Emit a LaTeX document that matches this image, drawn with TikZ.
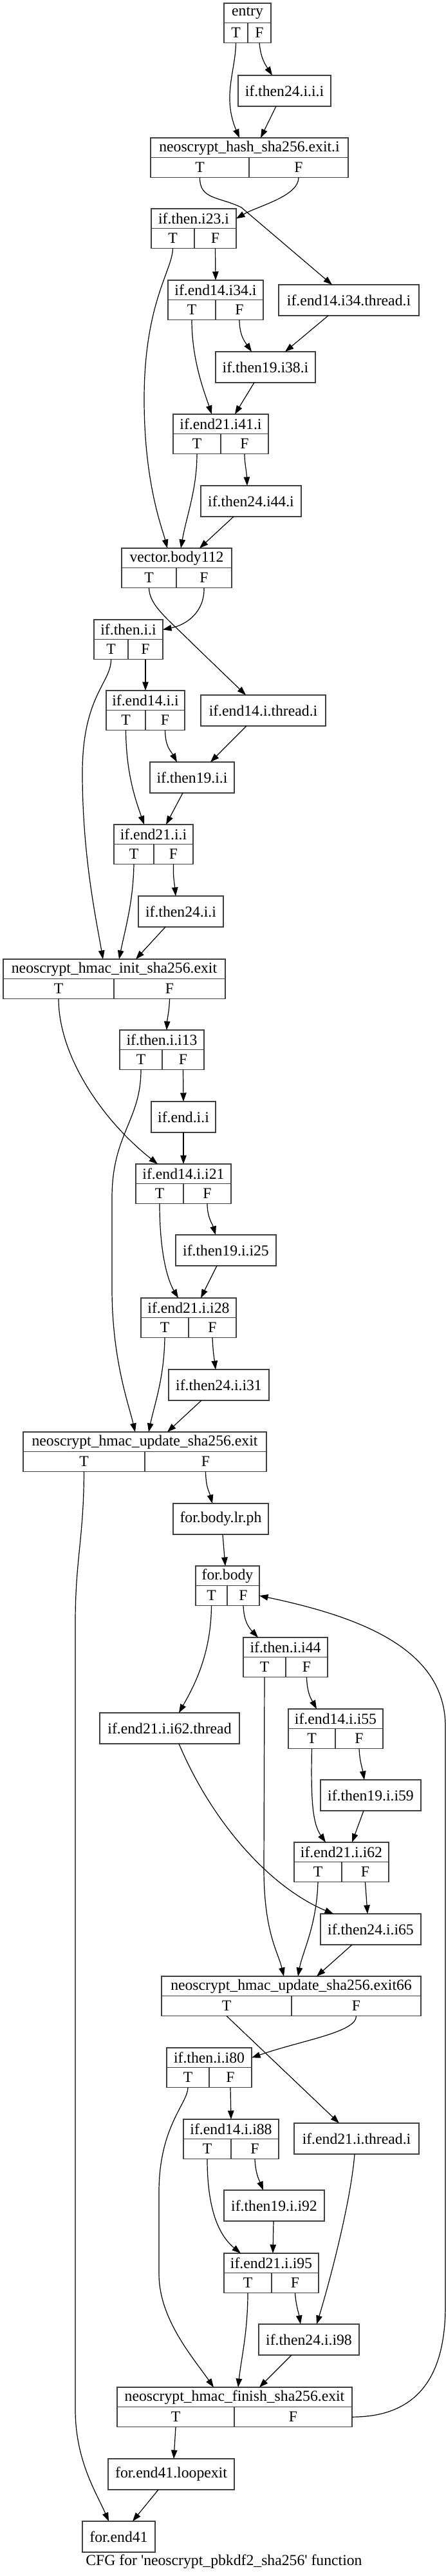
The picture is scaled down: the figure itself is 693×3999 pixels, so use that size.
\documentclass[tikz,border=0pt]{standalone}
\usepackage{fontspec}
\setmainfont{Liberation Serif}
\usetikzlibrary{arrows.meta}

% record block: name, left, split, right, top, label
\newcommand{\cfgrecord}[6]{%
  \node[recrow,minimum width={#4pt-#2pt}] (#1) at ({(#2+#4)/2},{#5+15.375}) {#6};
  \node[recrow,minimum width={#3pt-#2pt}] (#1-T) at ({(#2+#3)/2},{#5+46.125}) {T};
  \node[recrow,minimum width={#4pt-#3pt}] (#1-F) at ({(#3+#4)/2},{#5+46.125}) {F};
}
% plain block: name, left, right, top, label
\newcommand{\cfgbox}[5]{%
  \node[plainbox,minimum width={#3pt-#2pt}] (#1) at ({(#2+#3)/2},{#4+24}) {#5};
}

\begin{document}
\begin{tikzpicture}[
  x=1pt,y=-1pt,
  cfgfont/.style={font=\fontsize{23.7}{28}\selectfont},
  recrow/.style={draw=black!75,line width=1.3pt,rectangle,inner sep=0pt,
    outer sep=0pt,minimum height=30.75pt,cfgfont},
  plainbox/.style={draw=black!75,line width=1.3pt,rectangle,inner sep=0pt,
    outer sep=0pt,minimum height=48pt,cfgfont},
  edge/.style={draw=black,line width=1.2pt,-{Triangle[length=13.5pt,width=9.5pt]}}
]
  \useasboundingbox (0,0) rectangle (693,3999);

  \cfgrecord{entry}{348}{385}{421}{5}{entry}
  \cfgbox{thenXA}{370}{514}{117}{if.then24.i.i.i}
  \cfgrecord{hashexit}{234}{387}{541}{214}{neoscrypt\_hash\_sha256.exit.i}
  \cfgrecord{thenA}{235}{302}{367}{324}{if.then.i23.i}
  \cfgrecord{endA}{261}{335}{409}{435}{if.end14.i34.i}
  \cfgbox{thrA}{433}{651}{442}{if.end14.i34.thread.i}
  \cfgbox{thenYA}{335}{490}{546}{if.then19.i38.i}
  \cfgrecord{endB}{269}{343}{417}{643}{if.end21.i41.i}
  \cfgbox{thenXB}{312}{468}{754}{if.then24.i44.i}
  \cfgrecord{vecbody}{189}{274}{360}{851}{vector.body112}
  \cfgrecord{thenB}{146}{199}{253}{962}{if.then.i.i}
  \cfgrecord{endC}{165}{226}{287}{1072}{if.end14.i.i}
  \cfgbox{thrB}{312}{506}{1079}{if.end14.i.thread.i}
  \cfgbox{thenYB}{233}{364}{1183}{if.then19.i.i}
  \cfgrecord{endD}{177}{239}{300}{1280}{if.end21.i.i}
  \cfgbox{thenXC}{215}{347}{1391}{if.then24.i.i}
  \cfgrecord{initexit}{5}{177}{350}{1489}{neoscrypt\_hmac\_init\_sha256.exit}
  \cfgrecord{thenC}{186}{252}{317}{1599}{if.then.i.i13}
  \cfgbox{endii}{235}{335}{1710}{if.end.i.i}
  \cfgrecord{endE}{211}{285}{359}{1807}{if.end14.i.i21}
  \cfgbox{thenYC}{273}{429}{1917}{if.then19.i.i25}
  \cfgrecord{endF}{219}{293}{367}{2015}{if.end21.i.i28}
  \cfgbox{thenXD}{262}{418}{2126}{if.then24.i.i31}
  \cfgrecord{updexit}{36}{225}{414}{2223}{neoscrypt\_hmac\_update\_sha256.exit}
  \cfgbox{lrph}{269}{417}{2334}{for.body.lr.ph}
  \cfgrecord{forbody}{304}{353}{403}{2431}{for.body}
  \cfgrecord{thenD}{378}{444}{509}{2542}{if.then.i.i44}
  \cfgbox{thrC}{155}{372}{2659}{if.end21.i.i62.thread}
  \cfgrecord{endG}{448}{521}{595}{2653}{if.end14.i.i55}
  \cfgbox{thenYD}{498}{654}{2763}{if.then19.i.i59}
  \cfgrecord{endH}{457}{531}{604}{2860}{if.end21.i.i62}
  \cfgbox{thenXE}{498}{654}{2971}{if.then24.i.i65}
  \cfgrecord{updexitB}{251}{453}{654}{3068}{neoscrypt\_hmac\_update\_sha256.exit66}
  \cfgrecord{thenE}{259}{325}{391}{3179}{if.then.i.i80}
  \cfgrecord{endI}{285}{359}{433}{3290}{if.end14.i.i88}
  \cfgbox{thrD}{457}{651}{3296}{if.end21.i.thread.i}
  \cfgbox{thenYE}{348}{504}{3400}{if.then19.i.i92}
  \cfgrecord{endJ}{348}{422}{495}{3498}{if.end21.i.i95}
  \cfgbox{thenXF}{402}{558}{3608}{if.then24.i.i98}
  \cfgrecord{finexit}{182}{364}{547}{3706}{neoscrypt\_hmac\_finish\_sha256.exit}
  \cfgbox{loopexit}{168}{364}{3817}{for.end41.loopexit}
  \cfgbox{forend}{128}{241}{3914}{for.end41}
  \node[cfgfont,inner sep=0pt] (caption) at (348,3977)
    {CFG for \textquotesingle neoscrypt\_pbkdf2\_sha256\textquotesingle\ function};

  \draw[edge] (entry-T.south) .. controls (366,110) and (345,150) .. ([xshift=-15.5pt]hashexit.north);
  \draw[edge] (entry-F.south) .. controls (405,90) and (412,100) .. ([xshift=-19pt]thenXA.north);
  \draw[edge] ([xshift=-13pt]thenXA.south) -- ([xshift=17.5pt]hashexit.north);
  \draw[edge] (hashexit-T.south) .. controls (310,310) and (340,305) .. (375,322) -- ([xshift=-26pt]thrA.north);
  \draw[edge] (hashexit-F.south) .. controls (464,305) and (400,320) .. (thenA.east);
  \draw[edge] (thenA-T.south) .. controls (268,420) and (224,470) .. (224,620)
    .. controls (224,750) and (252,820) .. ([xshift=-14.5pt]vecbody.north);
  \draw[edge] (thenA-F.south) -- (endA.north);
  \draw[edge] (endA-T.south) .. controls (298,560) and (318,610) .. ([xshift=-14pt]endB.north);
  \draw[edge] (endA-F.south) .. controls (372,520) and (380,530) .. ([xshift=-21.5pt]thenYA.north);
  \draw[edge] ([xshift=-32pt]thrA.south) -- ([xshift=30.5pt]thenYA.north);
  \draw[edge] ([xshift=-17.5pt]thenYA.south) -- ([xshift=22pt]endB.north);
  \draw[edge] (endB-T.south) .. controls (306,760) and (290,800) .. ([xshift=6.5pt]vecbody.north);
  \draw[edge] (endB-F.south) .. controls (380,720) and (383,730) .. ([xshift=-6pt]thenXB.north);
  \draw[edge] ([xshift=-27pt]thenXB.south) -- ([xshift=35.5pt]vecbody.north);
  \draw[edge] (vecbody-T.south) .. controls (232,940) and (260,960) .. (300,1000) -- ([xshift=-27pt]thrB.north);
  \draw[edge] (vecbody-F.south) .. controls (318,950) and (290,970) .. (thenB.east);
  \draw[edge] (thenB-T.south) .. controls (173,1060) and (128,1080) .. (128,1200)
    .. controls (128,1330) and (150,1430) .. ([xshift=-17.5pt]initexit.north);
  \draw[edge] (thenB-F.south) -- (endC.north);
  \draw[edge] (endC-T.south) .. controls (196,1200) and (210,1240) .. ([xshift=-14.5pt]endD.north);
  \draw[edge] (endC-F.south) .. controls (257,1160) and (265,1165) .. ([xshift=-23.5pt]thenYB.north);
  \draw[edge] ([xshift=-26pt]thrB.south) -- ([xshift=28.5pt]thenYB.north);
  \draw[edge] ([xshift=-14.5pt]thenYB.south) -- ([xshift=19.5pt]endD.north);
  \draw[edge] (endD-T.south) .. controls (207,1400) and (195,1440) .. ([xshift=7.5pt]initexit.north);
  \draw[edge] (endD-F.south) .. controls (269,1365) and (271,1370) .. ([xshift=-8pt]thenXC.north);
  \draw[edge] ([xshift=-24pt]thenXC.south) -- ([xshift=33.5pt]initexit.north);
  \draw[edge] (initexit-T.south) .. controls (91,1640) and (160,1740) .. ([xshift=-40pt]endE.north);
  \draw[edge] (initexit-F.south) .. controls (263,1570) and (260,1580) .. ([xshift=7.5pt]thenC.north);
  \draw[edge] (thenC-T.south) .. controls (219,1740) and (174,1760) .. (174,1860) -- (174,2000)
    .. controls (174,2110) and (200,2180) .. ([xshift=-15pt]updexit.north);
  \draw[edge] (thenC-F.south) -- (endii.north);
  \draw[edge] (endii.south) -- (endE.north);
  \draw[edge] (endE-T.south) .. controls (248,1950) and (262,1990) .. ([xshift=-16pt]endF.north);
  \draw[edge] (endE-F.south) .. controls (322,1890) and (330,1900) .. ([xshift=-16pt]thenYC.north);
  \draw[edge] ([xshift=-14pt]thenYC.south) -- ([xshift=19pt]endF.north);
  \draw[edge] (endF-T.south) .. controls (255,2140) and (240,2180) .. ([xshift=6pt]updexit.north);
  \draw[edge] (endF-F.south) .. controls (331,2100) and (333,2110) .. ([xshift=-5pt]thenXD.north);
  \draw[edge] ([xshift=-27pt]thenXD.south) -- ([xshift=35pt]updexit.north);
  \draw[edge] (updexit-T.south) .. controls (130,2390) and (117,2420) .. (117,2520) -- (117,3740)
    .. controls (117,3820) and (150,3870) .. ([xshift=-15.5pt]forend.north);
  \draw[edge] (updexit-F.south) .. controls (320,2310) and (325,2315) .. ([xshift=-13pt]lrph.north);
  \draw[edge] ([xshift=3pt]lrph.south) -- ([xshift=-3.5pt]forbody.north);
  \draw[edge] (forbody-T.south) .. controls (328,2570) and (300,2620) .. ([xshift=14.5pt]thrC.north);
  \draw[edge] (forbody-F.south) .. controls (379,2515) and (385,2525) .. ([xshift=-42.5pt]thenD.north);
  \draw[edge] (thenD-T.south) -- (410,2900) .. controls (410,3000) and (432,3030) .. ([xshift=-11.5pt]updexitB.north);
  \draw[edge] (thenD-F.south) .. controls (477,2630) and (485,2640) .. ([xshift=-29.5pt]endG.north);
  \draw[edge] ([xshift=14.5pt]thrC.south) .. controls (330,2830) and (420,2930) .. ([xshift=-58pt]thenXE.north);
  \draw[edge] (endG-T.south) .. controls (483,2790) and (485,2830) .. ([xshift=-24.5pt]endH.north);
  \draw[edge] (endG-F.south) .. controls (559,2735) and (563,2745) .. ([xshift=-10pt]thenYD.north);
  \draw[edge] ([xshift=-11pt]thenYD.south) -- ([xshift=16.5pt]endH.north);
  \draw[edge] (endH-T.south) .. controls (492,2990) and (470,3030) .. ([xshift=10.5pt]updexitB.north);
  \draw[edge] (endH-F.south) -- ([xshift=-5pt]thenXE.north);
  \draw[edge] ([xshift=-29pt]thenXE.south) -- ([xshift=39.5pt]updexitB.north);
  \draw[edge] (updexitB-T.south) -- ([xshift=-27pt]thrD.north);
  \draw[edge] (updexitB-F.south) .. controls (554,3155) and (470,3167) .. (thenE.east);
  \draw[edge] (thenE-T.south) .. controls (292,3265) and (248,3300) .. (247,3400) -- (247,3530)
    .. controls (247,3600) and (300,3660) .. ([xshift=-32.5pt]finexit.north);
  \draw[edge] (thenE-F.south) -- (endI.north);
  \draw[edge] (endI-T.south) .. controls (322,3430) and (340,3470) .. ([xshift=-47.5pt]endJ.north);
  \draw[edge] (endI-F.south) .. controls (397,3375) and (403,3385) .. ([xshift=-17pt]thenYE.north);
  \draw[edge] ([xshift=-1pt]thenYE.south) -- ([xshift=2.5pt]endJ.north);
  \draw[edge] ([xshift=-3pt]thrD.south) .. controls (545,3420) and (510,3550) .. ([xshift=12pt]thenXF.north);
  \draw[edge] (endJ-T.south) .. controls (385,3620) and (375,3660) .. ([xshift=5.5pt]finexit.north);
  \draw[edge] (endJ-F.south) .. controls (460,3580) and (464,3590) .. ([xshift=-13pt]thenXF.north);
  \draw[edge] ([xshift=-27pt]thenXF.south) -- ([xshift=38.5pt]finexit.north);
  \draw[edge] (finexit-F.east) .. controls (640,3752) and (692,3700) .. (692,3580) -- (692,2680)
    .. controls (692,2560) and (560,2510) .. (forbody-F.east);
  \draw[edge] (finexit-T.south) -- ([xshift=4pt]loopexit.north);
  \draw[edge] ([xshift=-20pt]loopexit.south) -- ([xshift=21.5pt]forend.north);
\end{tikzpicture}
\end{document}
